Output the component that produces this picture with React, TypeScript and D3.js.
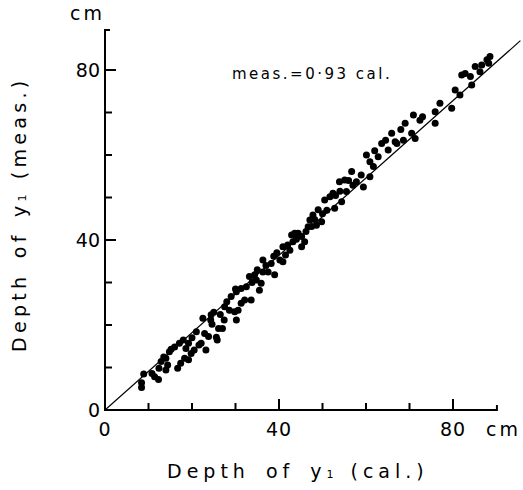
import React from 'react';
import * as d3 from 'd3';

// depth of y1: calculated vs measured (cm)
const calValues = [
  8.4, 8.4, 8.9, 11.4, 12.3, 12.4, 12.9, 14.0, 14.0, 14.4, 14.8, 15.2, 16.7, 17.4, 17.1, 18.3,
  18.6, 19.2, 19.8, 19.2, 20.5, 21.0, 21.6, 22.1, 22.9, 23.2, 23.8, 22.5, 24.3, 24.6, 25.6, 25.8,
  26.1, 27.0, 27.4, 24.4, 27.5, 28.6, 29.0, 29.8, 30.2, 30.6, 30.2, 31.3, 32.1, 31.3, 32.5, 33.6,
  33.2, 34.4, 34.8, 35.5, 35.9, 36.3, 36.3, 37.5, 38.2, 39.0, 40.2, 40.9, 40.9, 42.5, 43.2, 42.9,
  43.6, 44.4, 45.2, 45.9, 45.2, 46.7, 47.1, 47.8, 48.6, 49.8, 49.0, 50.5, 51.7, 52.4, 52.8, 54.4,
  53.9, 55.1, 55.5, 56.7, 57.0, 57.8, 59.4, 58.9, 60.9, 60.1, 60.9, 61.7, 62.8, 63.6, 65.1, 65.9,
  66.7, 67.1, 68.6, 69.0, 70.9, 72.4, 70.5, 71.3, 75.9, 75.9, 77.0, 79.7, 80.5, 81.6, 82.0, 82.8,
  84.3, 85.1, 86.2, 86.6, 87.8, 88.5, 88.2,
  41.5, 42.0, 44.0, 46.2, 47.5, 48.2, 50.0, 51.0, 53.0, 54.0, 56.0, 37.0, 38.8, 39.5, 35.0, 33.8,
  30.0, 28.0, 26.5, 25.0, 20.0, 18.0, 16.0, 13.5, 10.8, 62.0, 64.5, 68.0, 73.0, 84.0,
];
const measValues = [
  5.3, 6.4, 8.5, 7.8, 7.2, 9.8, 11.4, 9.4, 12.2, 10.6, 13.7, 14.3, 9.8, 11.0, 15.7, 12.2,
  14.5, 11.8, 13.3, 15.7, 14.1, 18.4, 15.3, 15.7, 18.0, 14.1, 17.3, 21.6, 21.2, 20.2, 17.1, 16.5,
  19.2, 19.2, 21.2, 22.4, 24.3, 23.5, 26.7, 23.1, 27.8, 23.5, 21.2, 25.1, 25.9, 28.6, 29.0, 25.9,
  31.4, 31.8, 30.6, 28.2, 29.8, 32.5, 35.3, 32.5, 34.5, 31.8, 35.3, 34.9, 38.4, 37.6, 39.6, 41.2,
  41.6, 41.6, 38.4, 39.6, 40.8, 43.1, 44.7, 45.9, 43.5, 44.3, 47.1, 49.4, 50.2, 51.0, 47.5, 49.0,
  53.7, 54.1, 51.4, 56.1, 52.9, 53.7, 52.5, 55.3, 54.9, 60.0, 58.4, 57.3, 59.6, 62.7, 61.2, 65.1,
  63.1, 62.7, 63.5, 67.5, 69.4, 68.2, 65.1, 63.9, 67.5, 70.2, 72.2, 71.0, 75.3, 74.1, 78.8, 79.2,
  76.5, 80.8, 79.6, 81.2, 82.4, 83.2, 81.6,
  36.5, 38.8, 40.2, 42.0, 43.2, 44.8, 46.2, 47.0, 50.5, 51.5, 54.0, 34.0, 36.2, 37.0, 33.0, 30.0,
  28.5, 25.5, 22.5, 23.0, 17.0, 16.5, 14.8, 12.5, 8.6, 61.0, 63.5, 66.0, 69.0, 78.5,
];

const majorTicks = [0, 40, 80];
const minorTicks = [10, 20, 30, 50, 60, 70];
const fitSlope = 0.91;
const fitEnd = 95.5;
const xAxisEnd = 90.1;
const yAxisEnd = 89.4;

const font = '"DejaVu Sans", sans-serif';

export default function App() {
  const x = d3.scaleLinear().domain([0, 80]).range([105, 453]);
  const y = d3.scaleLinear().domain([0, 80]).range([410, 70]);
  const points = calValues.map((c, i) => [c, measValues[i]]);

  return (
    <svg
      width={523}
      height={490}
      style={{ position: 'absolute', left: 0, top: 0, display: 'block', background: '#fff' }}
    >
      {/* axes */}
      <g stroke="#000" strokeWidth={2} fill="none">
        <path d={`M${x(0) + 5},${y(yAxisEnd)}H${x(0)}V${y(0)}H${x(xAxisEnd)}V${y(0) - 5}`} />
        {majorTicks.filter(t => t > 0).map(t => (
          <g key={'M' + t}>
            <line x1={x(t)} x2={x(t)} y1={y(0)} y2={y(0) - 11} />
            <line x1={x(0)} x2={x(0) + 11} y1={y(t)} y2={y(t)} />
          </g>
        ))}
        {minorTicks.map(t => (
          <g key={'m' + t}>
            <line x1={x(t)} x2={x(t)} y1={y(0)} y2={y(0) - 7} />
            <line x1={x(0)} x2={x(0) + 7} y1={y(t)} y2={y(t)} />
          </g>
        ))}
      </g>

      {/* fitted line */}
      <line x1={x(0)} y1={y(0)} x2={x(fitEnd)} y2={y(fitSlope * fitEnd)} stroke="#000" strokeWidth={1.2} />

      {/* points */}
      <g fill="#000">
        {points.map((p, i) => (
          <circle key={i} cx={x(p[0])} cy={y(p[1])} r={3.5} />
        ))}
      </g>

      {/* tick labels */}
      <g fontFamily={font} fontSize={19} fill="#000">
        {majorTicks.map(t => (
          <text key={'xl' + t} x={x(t)} y={436} textAnchor="middle" letterSpacing={1}>{t}</text>
        ))}
        {majorTicks.map(t => (
          <text key={'yl' + t} x={100} y={y(t) + 7} textAnchor="end">{t}</text>
        ))}
        <text x={486} y={436} letterSpacing={3}>cm</text>
        <text x={70} y={20} letterSpacing={3}>cm</text>
      </g>

      {/* annotation */}
      <text x={232} y={79} fontFamily={font} fontSize={15} letterSpacing={2.5}>meas.=0·93 cal.</text>

      {/* axis titles */}
      <text x={167} y={478} fontFamily={font} fontSize={19} letterSpacing={5} wordSpacing={5}>
        Depth of y<tspan fontSize={11}>1</tspan><tspan dx={12}>(cal.)</tspan>
      </text>
      <text
        transform="translate(26,352) rotate(-90)"
        fontFamily={font}
        fontSize={19}
        letterSpacing={4.3}
        wordSpacing={4}
      >
        Depth of y<tspan fontSize={11}>1</tspan><tspan dx={11}>(meas.)</tspan>
      </text>
    </svg>
  );
}
